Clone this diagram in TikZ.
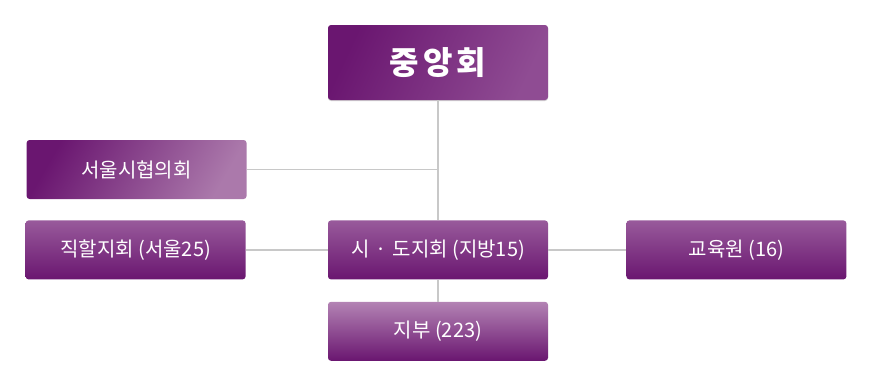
\documentclass[tikz,border=0pt]{standalone}
\usepackage{fontspec}
\setmainfont{Noto Sans CJK KR}
\usepackage{xcolor}
\usepackage{tikz}
\usetikzlibrary{positioning,shadows}
\definecolor{orgDark}{HTML}{6A1670}
\definecolor{orgMid}{HTML}{985A9B}
\definecolor{orgSoft}{HTML}{8F4C93}
\definecolor{orgLight}{HTML}{AB79AB}
\definecolor{orgPale}{HTML}{B383B4}
\definecolor{orgLine}{HTML}{C8C8C8}

\begin{document}
\begin{tikzpicture}[
  x=1pt, y=1pt,
  font=\fontsize{20}{24}\selectfont,
  unit/.style={rounded corners=3pt, minimum width=220pt, minimum height=59pt, align=center, text=white, inner sep=0pt},
  flat/.style={unit, top color=orgMid, bottom color=orgDark},
  head/.style={unit, minimum height=75pt, shading=axis, left color=orgDark, right color=orgSoft, shading angle=65,
    drop shadow={shadow xshift=0pt, shadow yshift=-1pt, opacity=.18, fill=black}},
  council/.style={unit, shading=axis, left color=orgDark, right color=orgLight, shading angle=60},
  branch/.style={unit, top color=orgPale, bottom color=orgDark},
  link/.style={draw=orgLine, line width=1.4pt}
]
  \useasboundingbox (-438,62.5) rectangle (436,-323.5);

  \node[head] (central) {\fontsize{32}{36}\selectfont\bfseries 중\hspace{4pt}앙\hspace{4pt}회};
  \node[flat, below=120pt of central] (province) {시\hspace{6pt}·\hspace{6pt}도지회 (지방15)};
  \node[branch, below=22pt of province] (branchoffice) {지부 (223)};
  \node[flat, left=82pt of province] (direct) {직할지회 (서울25)};
  \node[flat, right=78pt of province] (training) {교육원 (16)};
  \node[council, above=21pt of direct, xshift=1pt] (seoul) {서울시협의회};

  \draw[link] (central) -- (province);
  \draw[link] (province) -- (branchoffice);
  \draw[link] (seoul.east) -- (seoul.east -| central);
  \draw[link] (direct) -- (province);
  \draw[link] (province) -- (training);
\end{tikzpicture}
\end{document}
